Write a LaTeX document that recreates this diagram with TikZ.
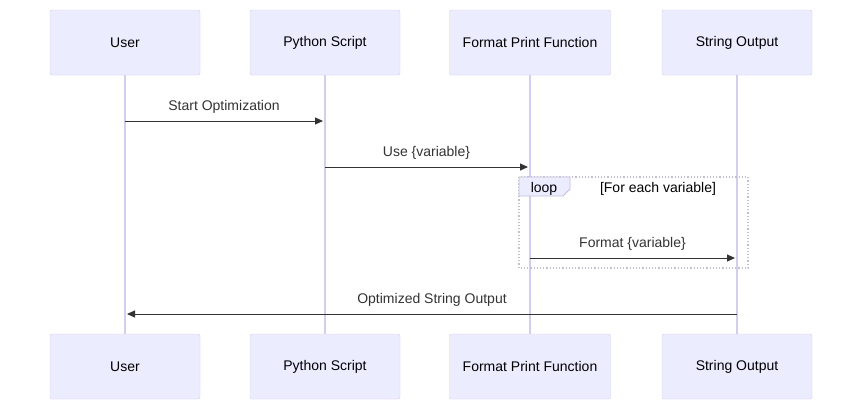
\documentclass[tikz,border=0pt]{standalone}
\usepackage{fontspec}
\setmainfont{Liberation Sans}
\usetikzlibrary{arrows.meta}
\definecolor{actfill}{HTML}{ECECFF}
\definecolor{actline}{HTML}{D4CCF2}
\definecolor{msg}{HTML}{333333}
\begin{document}
\begin{tikzpicture}[x=1pt,y=-1pt,
  actor/.style={draw=actline,fill=actfill,rounded corners=2pt,minimum width=150pt,minimum height=65pt,inner sep=0pt,font=\fontsize{14}{16}\selectfont},
  life/.style={draw=actline,line width=1.2pt},
  msgline/.style={draw=msg,line width=1pt,-{Triangle[length=8pt,width=7pt]}},
  lbl/.style={font=\fontsize{14}{16}\selectfont,text=msg}]
\useasboundingbox (0,0) rectangle (862,410);
\foreach \n/\x/\t/\w in {u/125/User/150, p/325/Python Script/150, f/530/Format Print Function/161, s/737/String Output/150}{
  \draw[life] (\x,75) -- (\x,334);
  \node[actor,minimum width=\w pt] (\n top) at (\x,42.5) {\t};
  \node[actor,minimum width=\w pt] (\n bot) at (\x,366.5) {\t};
}
\coordinate (u1) at (125,121); \coordinate (p1) at (323,121);
\coordinate (p2) at (325,167); \coordinate (f2) at (528,167);
\coordinate (f3) at (530,258); \coordinate (s3) at (735,258);
\coordinate (s4) at (737,314); \coordinate (u4) at (127,314);
\draw[msgline] (u1) -- node[lbl,above=4pt] (m1) {Start Optimization} (p1);
\draw[msgline] (p2) -- node[lbl,above=4pt] (m2) {Use \{variable\}} (f2);
\draw[draw=actline!80!gray,dotted,line width=1.2pt] (519,177) rectangle (748,268);
\draw[draw=actline!80!gray,fill=actfill,line width=0.8pt] (519,177) -- (570,177) -- (570,189) -- (563,196) -- (519,196) -- cycle;
\node[lbl,text=black] (lp) at (544,189) {loop};
\node[lbl,text=black] (lc) at (658,189) {[For each variable]};
\draw[msgline] (f3) -- node[lbl,above=4pt] (m3) {Format \{variable\}} (s3);
\draw[msgline] (s4) -- node[lbl,above=4pt] (m4) {Optimized String Output} (u4);
\end{tikzpicture}
\end{document}
